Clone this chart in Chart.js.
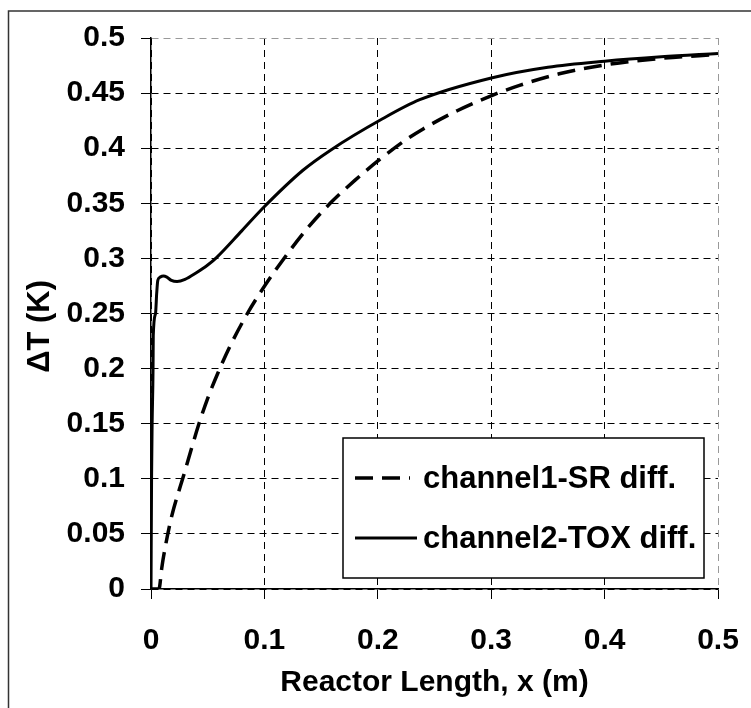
<!DOCTYPE html>
<html>
<head>
<meta charset="utf-8">
<script src="https://cdn.jsdelivr.net/npm/chart.js@4.4.1/dist/chart.umd.min.js"></script>
<style>
	html, body { margin: 0; padding: 0; background: #fff; }
	#wrap { width: 751px; height: 708px; position: relative; }
</style>
</head>
<body>
<div id="wrap"><canvas id="deltaT"></canvas></div>
<script>
// channel1-SR diff. (dashed)
const srX = [0, 0.007, 0.0095, 0.011, 0.018, 0.0285, 0.042, 0.05, 0.059, 0.07, 0.085, 0.097, 0.111, 0.136, 0.158, 0.18, 0.202, 0.224, 0.24, 0.27, 0.301, 0.325, 0.36, 0.4, 0.45, 0.5];
const srY = [0, 0, 0.019, 0.029, 0.065, 0.102, 0.149, 0.173, 0.196, 0.221, 0.250, 0.270, 0.291, 0.325, 0.350, 0.371, 0.390, 0.407, 0.4175, 0.434, 0.448, 0.457, 0.4675, 0.4755, 0.4815, 0.485];

// channel2-TOX diff. (solid)
const toxX = [0, 0.0005, 0.001, 0.0018, 0.002, 0.004, 0.005, 0.006, 0.008, 0.011, 0.014, 0.018, 0.023, 0.03, 0.04, 0.05, 0.058, 0.08, 0.099, 0.134, 0.158, 0.203, 0.237, 0.301, 0.35, 0.4, 0.45, 0.5];
const toxY = [0, 0.10, 0.15, 0.20, 0.23, 0.25, 0.268, 0.280, 0.283, 0.284, 0.283, 0.280, 0.279, 0.281, 0.287, 0.294, 0.301, 0.325, 0.346, 0.380, 0.398, 0.426, 0.444, 0.464, 0.4735, 0.479, 0.483, 0.486];

const seriesLabels = ['channel1-SR diff.', 'channel2-TOX diff.'];
const xTitle = 'Reactor Length, x (m)';
// trailing spaces push the rotated title a bit below the axis middle, like the original
const yTitle = '\u0394T (K)   ';

const FONT = '"Liberation Sans", Arial, sans-serif';

function toPoints(xs, ys) {
	return xs.map((x, i) => ({ x: x, y: ys[i] }));
}

// frame round the whole picture (only left and top show)
const framePlugin = {
	id: 'frame',
	beforeDraw(chart) {
		const ctx = chart.ctx;
		ctx.save();
		ctx.fillStyle = '#fff';
		ctx.fillRect(0, 0, chart.width, chart.height);
		ctx.strokeStyle = '#333';
		ctx.lineWidth = 1.5;
		ctx.beginPath();
		ctx.moveTo(8.5, chart.height);
		ctx.lineTo(8.5, 11);
		ctx.lineTo(chart.width, 11);
		ctx.stroke();
		ctx.restore();
	}
};

// legend box inside the plot, bottom right
const boxLegend = {
	id: 'boxLegend',
	afterDraw(chart) {
		const ctx = chart.ctx;
		const box = { left: 343, top: 438, right: 704, bottom: 578 };
		ctx.save();
		ctx.fillStyle = '#fff';
		ctx.fillRect(box.left, box.top, box.right - box.left, box.bottom - box.top);
		ctx.strokeStyle = '#000';
		ctx.lineWidth = 1.5;
		ctx.strokeRect(box.left, box.top, box.right - box.left, box.bottom - box.top);

		const rows = [478, 538];
		chart.data.datasets.forEach((ds, i) => {
			const y = rows[i];
			ctx.strokeStyle = ds.borderColor;
			ctx.lineWidth = ds.borderWidth;
			ctx.setLineDash(ds.borderDash || []);
			ctx.beginPath();
			ctx.moveTo(355, y);
			ctx.lineTo(i === 0 ? 410 : 417, y);
			ctx.stroke();
			ctx.setLineDash([]);
			ctx.fillStyle = '#000';
			ctx.font = 'bold 31px ' + FONT;
			ctx.textBaseline = 'middle';
			ctx.textAlign = 'left';
			ctx.fillText(ds.label, 423, y + 1);
		});
		ctx.restore();
	}
};

const lastGray = (c) => (c.tick && Math.abs(c.tick.value - 0.5) < 1e-9) ? '#999' : '#000';
const fmt = (v) => String(+v.toFixed(2));

new Chart(document.getElementById('deltaT'), {
	type: 'scatter',
	data: {
		datasets: [
			{
				label: seriesLabels[0],
				data: toPoints(srX, srY),
				showLine: true,
				borderColor: '#000',
				borderWidth: 3.5,
				borderDash: [18, 9],
				pointRadius: 0,
				cubicInterpolationMode: 'monotone'
			},
			{
				label: seriesLabels[1],
				data: toPoints(toxX, toxY),
				showLine: true,
				borderColor: '#000',
				borderWidth: 3,
				pointRadius: 0,
				cubicInterpolationMode: 'monotone'
			}
		]
	},
	options: {
		responsive: true,
		maintainAspectRatio: false,
		animation: false,
		layout: { padding: { top: 38, right: 33, left: 0, bottom: 0 } },
		plugins: {
			legend: { display: false },
			tooltip: { enabled: false }
		},
		scales: {
			x: {
				type: 'linear',
				min: 0,
				max: 0.5,
				afterFit: (s) => { s.height = 119; s.paddingLeft = 0; s.paddingRight = 0; },
				ticks: {
					stepSize: 0.1,
					color: '#000',
					padding: 24,
					maxRotation: 0,
					callback: fmt,
					font: { family: FONT, size: 30, weight: 'bold' }
				},
				grid: {
					color: lastGray,
					tickColor: '#000',
					tickLength: 10,
					tickBorderDash: [],
					lineWidth: 1
				},
				border: { display: true, color: '#000', width: 1.5, dash: [7, 5] },
				title: {
					display: true,
					text: xTitle,
					color: '#000',
					padding: { top: 0, bottom: 7 },
					font: { family: FONT, size: 30, weight: 'bold' }
				}
			},
			y: {
				min: 0,
				max: 0.5,
				afterFit: (s) => { s.width = 151; s.paddingTop = 0; s.paddingBottom = 0; },
				ticks: {
					stepSize: 0.05,
					color: '#000',
					padding: 16,
					callback: fmt,
					font: { family: FONT, size: 30, weight: 'bold' }
				},
				grid: {
					color: lastGray,
					tickColor: '#000',
					tickLength: 10,
					tickBorderDash: [],
					lineWidth: 1
				},
				border: { display: true, color: '#000', width: 1.5, dash: [7, 5] },
				title: {
					display: true,
					text: yTitle,
					color: '#000',
					padding: { top: 22, bottom: 0 },
					font: { family: FONT, size: 31, weight: 'bold' }
				}
			}
		}
	},
	plugins: [framePlugin, boxLegend]
});
</script>
</body>
</html>
